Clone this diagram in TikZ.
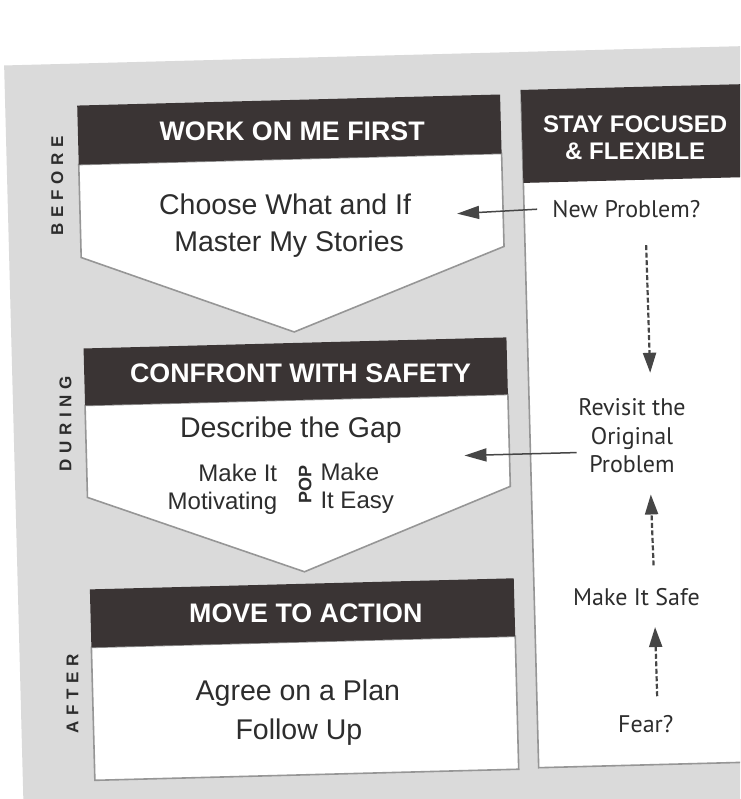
\documentclass[tikz,border=0pt]{standalone}
\usepackage{fontspec}
\setmainfont{Liberation Sans}
\newfontfamily\ptfont{PT Sans}
\usetikzlibrary{arrows.meta}
\definecolor{bggray}{RGB}{218,218,218}
\definecolor{hdr}{RGB}{58,52,52}
\definecolor{edge}{RGB}{150,150,150}
\definecolor{ink}{RGB}{45,45,45}
\definecolor{arr}{RGB}{70,70,70}
\begin{document}
\begin{tikzpicture}[x=1pt,y=-1pt,
  bodybox/.style={fill=white,draw=edge,line width=1.6pt,line join=miter},
  hdrtext/.style={text=white,font=\bfseries\fontsize{26.8}{29}\selectfont,inner sep=0pt},
  bodytext/.style={text=ink,font=\fontsize{28.5}{34}\selectfont,inner sep=0pt},
  smalltext/.style={text=ink,font=\fontsize{24}{28}\selectfont,inner sep=0pt},
  sidetext/.style={text=ink,font=\bfseries\fontsize{17}{17}\selectfont\addfontfeatures{LetterSpace=34},rotate=90,inner sep=0pt},
  rtext/.style={text=ink,font=\ptfont\fontsize{24}{28.5}\selectfont,inner sep=0pt,align=center},
  solidarrow/.style={draw=arr,line width=1.5pt,-{Triangle[length=22pt,width=13pt]}},
  dasharrow/.style={draw=arr,line width=2.2pt,dash pattern=on 5pt off 2.5pt,-{Triangle[length=20pt,width=13pt]}},
]
\useasboundingbox (0,0) rectangle (740,799);
\clip (0,0) rectangle (740,799);
\fill[white] (0,0) rectangle (740,799);
\begin{scope}[rotate around={1.5:(370,400)}]
\fill[bggray] (13,56) rectangle (820,860);
% box 1
\path[bodybox] (85,157) -- (508,157) -- (508,250) -- (296,330) -- (85,250) -- cycle;
\fill[hdr] (85,98) rectangle (508,157);
% box 2
\path[bodybox] (85,398) -- (508,398) -- (508,490) -- (300,570) -- (85,490) -- cycle;
\fill[hdr] (85,341) rectangle (508,398);
% box 3
\path[bodybox] (85,640) rectangle (509,773);
\fill[hdr] (85,582) rectangle (509,640);
% right panel
\fill[white] (529,187) rectangle (820,772);
\draw[edge,line width=1.6pt] (529,94) -- (529,772) -- (820,772);
\fill[hdr] (529,94) rectangle (820,187);

\node[hdrtext,anchor=base] (h1) at (299,139) {WORK ON ME FIRST};
\node[bodytext,anchor=base] (b1a) at (290,212) {Choose What and If};
\node[bodytext,anchor=base] (b1b) at (293,249) {Master My Stories};

\node[hdrtext,anchor=base] (h2) at (301,381) {CONFRONT WITH SAFETY};
\node[bodytext,anchor=base] (b2a) at (290,435) {Describe the Gap};
\node[smalltext,anchor=east,align=right] (b2l) at (275,487) {Make It\\Motivating};
\node[smalltext,anchor=west,align=left] (b2r) at (318,487) {Make\\It Easy};
\node[text=ink,font=\bfseries\fontsize{18}{18}\selectfont,rotate=90,inner sep=0pt] (pop) at (303,483) {POP};

\node[hdrtext,anchor=base] (h3) at (300,621) {MOVE TO ACTION};
\node[bodytext,anchor=base] (b3a) at (290,699) {Agree on a Plan};
\node[bodytext,anchor=base] (b3b) at (290,738) {Follow Up};

\node[hdrtext,align=center,font=\bfseries\fontsize{24}{27}\selectfont] (h4) at (642,145) {STAY FOCUSED\\\& FLEXIBLE};

\node[sidetext] (lb) at (63,178) {BEFORE};
\node[sidetext] (ld) at (65,416) {DURING};
\node[sidetext] (la) at (65,686) {AFTER};

\node[rtext,anchor=base] (np) at (631,224) {New Problem?};
\node[rtext] (rev) at (631,442.5) {Revisit the\\Original\\Problem};
\node[rtext,anchor=base] (mis) at (631,612) {Make It Safe};
\node[rtext,anchor=base] (fear) at (637,740) {Fear?};

\coordinate (t1) at (462,216);
\coordinate (t2) at (463,458);
\draw[solidarrow] ([xshift=-15pt]np.west) -- (t1);
\draw[solidarrow] ([xshift=-2pt]rev.west |- t2) -- (t2);
\draw[dasharrow,shorten <=28pt,shorten >=25pt] ([xshift=19pt]np.south) -- ([xshift=19pt]rev.north);
\draw[dasharrow,shorten <=22pt,shorten >=22pt] ([xshift=18pt]mis.north) -- ([xshift=18pt]rev.south);
\draw[dasharrow,shorten <=19pt,shorten >=22pt] ([xshift=12pt]fear.north) -- ([xshift=18pt]mis.south);
\end{scope}
\end{tikzpicture}
\end{document}
